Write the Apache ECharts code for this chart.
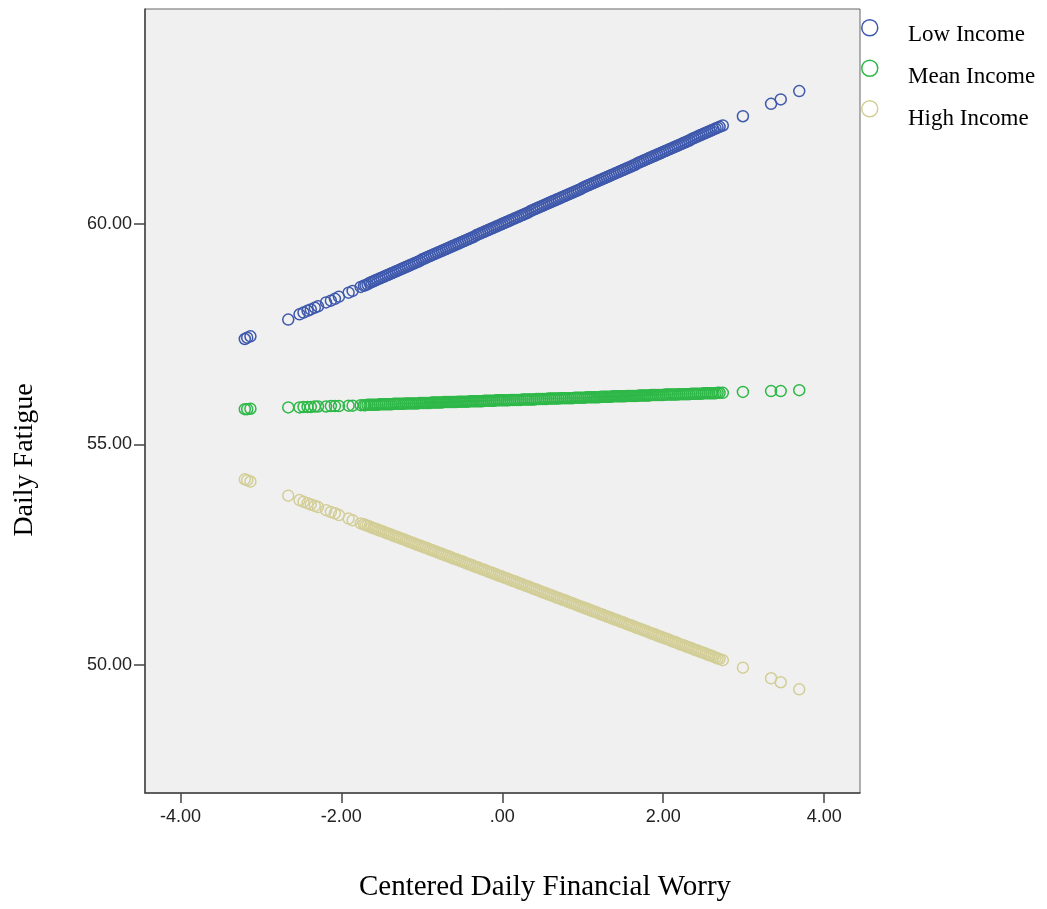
<!DOCTYPE html>
<html>
<head>
<meta charset="utf-8">
<script src="https://cdn.jsdelivr.net/npm/echarts@6/dist/echarts.min.js"></script>
<style>
html,body{margin:0;padding:0;background:#ffffff;}
#chart{width:1047px;height:909px;}
</style>
</head>
<body>
<div id="chart"></div>
<script>
// Centered daily financial worry (x), shared by all three income levels
var worry = [
  -3.20,-3.17,-3.13,-2.66,-2.52,-2.47,-2.42,-2.38,-2.33,-2.29,-2.19,-2.13,-2.08,-2.03,-1.91,-1.86,-1.76,-1.72,
  -1.70,-1.65,-1.60,-1.55,-1.50,-1.45,-1.40,-1.35,-1.30,-1.25,-1.20,-1.15,-1.10,-1.05,-1.00,-0.95,-0.90,-0.85,
  -0.80,-0.75,-0.70,-0.65,-0.60,-0.55,-0.50,-0.45,-0.40,-0.35,-0.30,-0.25,-0.20,-0.15,-0.10,-0.05,
  0.00,0.05,0.10,0.15,0.20,0.25,0.30,0.35,0.40,0.45,0.50,0.55,0.60,0.65,0.70,0.75,0.80,0.85,0.90,0.95,
  1.00,1.05,1.10,1.15,1.20,1.25,1.30,1.35,1.40,1.45,1.50,1.55,1.60,1.65,1.70,1.75,1.80,1.85,1.90,1.95,
  2.00,2.05,2.10,2.15,2.20,2.25,2.30,2.35,2.40,2.45,2.50,2.55,2.60,2.65,2.70,
  2.74,2.99,3.34,3.46,3.69,
  -1.675,-1.625,-1.575,-1.525,-1.475,-1.425,-1.375,-1.325,-1.275,-1.225,-1.175,-1.125,-1.075,-1.025,
  -0.975,-0.925,-0.875,-0.825,-0.775,-0.725,-0.675,-0.625,-0.575,-0.525,-0.475,-0.425,-0.375,-0.325,
  -0.275,-0.225,-0.175,-0.125,-0.075,-0.025,0.025,0.075,0.125,0.175,0.225,0.275,0.325,0.375,0.425,0.475,
  0.525,0.575,0.625,0.675,0.725,0.775,0.825,0.875,0.925,0.975,1.025,1.075,1.125,1.175,1.225,1.275,
  1.325,1.375,1.425,1.475,1.525,1.575,1.625,1.675,1.725,1.775,1.825,1.875,1.925,1.975,2.025,2.075,
  2.125,2.175,2.225,2.275,2.325,2.375,2.425,2.475,2.525,2.575,2.625,2.675
];
// Daily fatigue, low income
var lowIncome = [
  57.39,57.42,57.45,57.83,57.95,57.99,58.03,58.06,58.10,58.13,58.22,58.26,58.30,58.35,58.44,58.48,58.57,58.60,
  58.61,58.66,58.70,58.74,58.78,58.82,58.86,58.90,58.94,58.98,59.02,59.06,59.10,59.14,59.19,59.23,59.27,59.31,
  59.35,59.39,59.43,59.47,59.51,59.55,59.59,59.63,59.67,59.71,59.76,59.80,59.84,59.88,59.92,59.96,
  60.00,60.04,60.08,60.12,60.16,60.20,60.24,60.29,60.33,60.37,60.41,60.45,60.49,60.53,60.57,60.61,60.65,60.69,60.73,60.77,
  60.82,60.86,60.90,60.94,60.98,61.02,61.06,61.10,61.14,61.18,61.22,61.26,61.30,61.34,61.39,61.43,61.47,61.51,61.55,61.59,
  61.63,61.67,61.71,61.75,61.79,61.83,61.87,61.92,61.96,62.00,62.04,62.08,62.12,62.16,62.20,
  62.23,62.44,62.72,62.82,63.01,
  58.63,58.68,58.72,58.76,58.80,58.84,58.88,58.92,58.96,59.00,59.04,59.08,59.12,59.16,
  59.21,59.25,59.29,59.33,59.37,59.41,59.45,59.49,59.53,59.57,59.61,59.65,59.69,59.74,
  59.78,59.82,59.86,59.90,59.94,59.98,60.02,60.06,60.10,60.14,60.18,60.22,60.26,60.31,60.35,60.39,
  60.43,60.47,60.51,60.55,60.59,60.63,60.67,60.71,60.75,60.79,60.84,60.88,60.92,60.96,61.00,61.04,
  61.08,61.12,61.16,61.20,61.24,61.28,61.32,61.37,61.41,61.45,61.49,61.53,61.57,61.61,61.65,61.69,
  61.73,61.77,61.81,61.85,61.89,61.94,61.98,62.02,62.06,62.10,62.14,62.18
];
// Daily fatigue, mean income
var meanIncome = [
  55.80,55.80,55.81,55.84,55.84,55.85,55.85,55.85,55.86,55.86,55.86,55.87,55.87,55.87,55.88,55.88,55.89,55.89,
  55.89,55.90,55.90,55.90,55.91,55.91,55.91,55.92,55.92,55.92,55.93,55.93,55.93,55.93,55.94,55.94,55.94,55.95,
  55.95,55.95,55.96,55.96,55.96,55.97,55.97,55.97,55.98,55.98,55.98,55.98,55.99,55.99,55.99,56.00,
  56.00,56.00,56.01,56.01,56.01,56.02,56.02,56.02,56.02,56.03,56.03,56.03,56.04,56.04,56.04,56.05,56.05,56.05,56.06,56.06,
  56.06,56.07,56.07,56.07,56.07,56.08,56.08,56.08,56.09,56.09,56.09,56.10,56.10,56.10,56.11,56.11,56.11,56.12,56.12,56.12,
  56.12,56.13,56.13,56.13,56.14,56.14,56.14,56.15,56.15,56.15,56.16,56.16,56.16,56.16,56.17,
  56.17,56.19,56.21,56.21,56.23,
  55.90,55.90,55.90,55.91,55.91,55.91,55.91,55.92,55.92,55.92,55.93,55.93,55.93,55.94,
  55.94,55.94,55.95,55.95,55.95,55.96,55.96,55.96,55.96,55.97,55.97,55.97,55.98,55.98,
  55.98,55.99,55.99,55.99,56.00,56.00,56.00,56.00,56.01,56.01,56.01,56.02,56.02,56.02,56.03,56.03,
  56.03,56.04,56.04,56.04,56.05,56.05,56.05,56.05,56.06,56.06,56.06,56.07,56.07,56.07,56.08,56.08,
  56.08,56.09,56.09,56.09,56.09,56.10,56.10,56.10,56.11,56.11,56.11,56.12,56.12,56.12,56.13,56.13,
  56.13,56.13,56.14,56.14,56.14,56.15,56.15,56.15,56.16,56.16,56.16,56.17
];
// Daily fatigue, high income
var highIncome = [
  54.21,54.19,54.16,53.84,53.74,53.70,53.67,53.64,53.61,53.58,53.51,53.47,53.44,53.40,53.32,53.28,53.21,53.19,
  53.17,53.14,53.10,53.07,53.04,53.00,52.97,52.93,52.90,52.86,52.83,52.79,52.76,52.72,52.69,52.66,52.62,52.59,
  52.55,52.52,52.48,52.45,52.41,52.38,52.35,52.31,52.28,52.24,52.21,52.17,52.14,52.10,52.07,52.03,
  52.00,51.97,51.93,51.90,51.86,51.83,51.79,51.76,51.72,51.69,51.65,51.62,51.59,51.55,51.52,51.48,51.45,51.41,51.38,51.34,
  51.31,51.28,51.24,51.21,51.17,51.14,51.10,51.07,51.03,51.00,50.97,50.93,50.90,50.86,50.83,50.79,50.76,50.72,50.69,50.65,
  50.62,50.59,50.55,50.52,50.48,50.45,50.41,50.38,50.34,50.31,50.28,50.24,50.21,50.17,50.14,
  50.11,49.94,49.70,49.61,49.45,
  53.16,53.12,53.09,53.05,53.02,52.98,52.95,52.91,52.88,52.85,52.81,52.78,52.74,52.71,
  52.67,52.64,52.60,52.57,52.53,52.50,52.47,52.43,52.40,52.36,52.33,52.29,52.26,52.22,
  52.19,52.16,52.12,52.09,52.05,52.02,51.98,51.95,51.91,51.88,51.84,51.81,51.78,51.74,51.71,51.67,
  51.64,51.60,51.57,51.53,51.50,51.47,51.43,51.40,51.36,51.33,51.29,51.26,51.22,51.19,51.15,51.12,
  51.09,51.05,51.02,50.98,50.95,50.91,50.88,50.84,50.81,50.78,50.74,50.71,50.67,50.64,50.60,50.57,
  50.53,50.50,50.46,50.43,50.40,50.36,50.33,50.29,50.26,50.22,50.19,50.15
];
var seriesNames = ['Low Income', 'Mean Income', 'High Income'];
var xTicks = [-4, -2, 0, 2, 4];
var yTicks = [50, 55, 60];
var xTitle = 'Centered Daily Financial Worry';
var yTitle = 'Daily Fatigue';

var colors = ['#3E58AC', '#2EB848', '#D3CE97'];

function zip(xs, ys) {
  var out = [];
  for (var i = 0; i < xs.length; i++) out.push([xs[i], ys[i]]);
  return out;
}
function fmt(v) {
  return v === 0 ? '.00' : v.toFixed(2);
}

var chart = echarts.init(document.getElementById('chart'), null, {renderer: 'canvas'});
var ys = [lowIncome, meanIncome, highIncome];
var series = seriesNames.map(function (name, i) {
  return {
    name: name,
    type: 'scatter',
    symbol: 'circle',
    symbolSize: 11,
    data: zip(worry, ys[i]),
    itemStyle: {color: 'rgba(0,0,0,0)', borderColor: colors[i], borderWidth: 1.5, opacity: 1},
    emphasis: {disabled: true}
  };
});

// legend labels placed as text beside the legend icons
var legendText = seriesNames.map(function (n, i) {
  return {
    type: 'text', silent: true,
    position: [908, 35 + i * 42],
    style: {text: n, x: 0, y: 0, font: '23px "Liberation Serif"', fill: '#000', align: 'left', verticalAlign: 'middle'}
  };
});

chart.setOption({
  animation: false,
  backgroundColor: '#ffffff',
  grid: {
    left: 145, right: 187, top: 9, bottom: 116,
    show: true, backgroundColor: '#f0f0f0', borderColor: '#666666', borderWidth: 1
  },
  legend: {
    orient: 'vertical',
    left: 861, top: 19, padding: 0,
    itemWidth: 16, itemHeight: 16, itemGap: 23,
    icon: 'circle',
    formatter: function () { return ''; },
    textStyle: {fontSize: 12},
    data: seriesNames.map(function (n, i) {
      return {name: n, itemStyle: {color: 'rgba(0,0,0,0)', borderColor: colors[i], borderWidth: 1.5}};
    })
  },
  graphic: [
    {type: 'text', silent: true, position: [545, 887],
     style: {text: xTitle, x: 0, y: 0, font: '29px "Liberation Serif"', fill: '#000', align: 'center', verticalAlign: 'middle'}},
    {type: 'text', silent: true, position: [25, 460], rotation: Math.PI / 2,
     style: {text: yTitle, x: 0, y: 0, font: '28px "Liberation Serif"', fill: '#000', align: 'center', verticalAlign: 'middle'}}
  ].concat(legendText),
  xAxis: {
    type: 'value',
    min: -4.44, max: 4.445,
    splitLine: {show: false},
    axisLine: {show: true, onZero: false, lineStyle: {color: '#444444', width: 1.5}},
    axisTick: {show: true, customValues: xTicks, length: 10, lineStyle: {color: '#444444', width: 1.5}},
    axisLabel: {customValues: xTicks, formatter: fmt, margin: 15, fontFamily: 'Liberation Sans', fontSize: 18, color: '#222222'}
  },
  yAxis: {
    type: 'value',
    min: 47.10, max: 64.87,
    splitLine: {show: false},
    axisLine: {show: true, onZero: false, lineStyle: {color: '#444444', width: 1.5}},
    axisTick: {show: true, customValues: yTicks, length: 11, lineStyle: {color: '#444444', width: 1.5}},
    axisLabel: {customValues: yTicks, formatter: fmt, margin: 13, fontFamily: 'Liberation Sans', fontSize: 18, color: '#222222'}
  },
  series: series
});
</script>
</body>
</html>
